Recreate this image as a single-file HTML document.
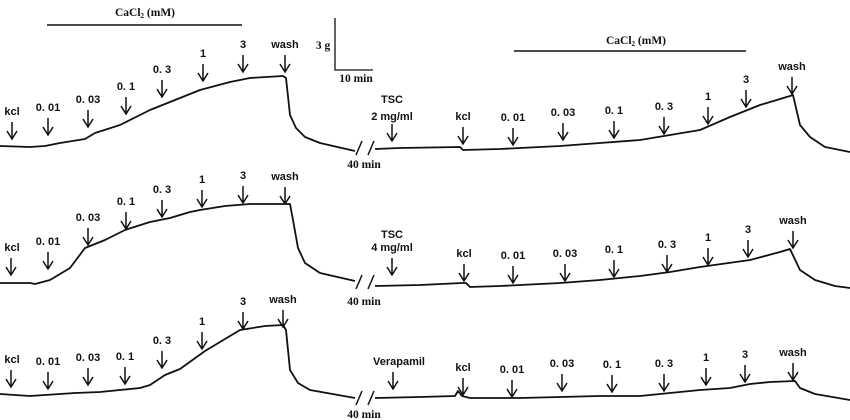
<!DOCTYPE html>
<html><head><style>body{margin:0;background:#fff}svg{display:block}
text{font-family:"Liberation Sans",sans-serif;font-size:11px;font-weight:bold;fill:#111;text-anchor:middle}
.s{font-family:"Liberation Serif",serif;font-size:11.5px}
.t{fill:none;stroke:#111;stroke-width:1.8;stroke-linejoin:round}
.a{fill:none;stroke:#111;stroke-width:1.5}
</style></head><body>
<svg width="850" height="420" viewBox="0 0 850 420" xmlns="http://www.w3.org/2000/svg">
<defs><g id="ar"><path class="a" d="M0,0V17M-5,9L0,17L5,9"/></g></defs>
<!-- CaCl2 bars -->
<text class="s" x="145" y="16">CaCl<tspan font-size="7" dy="2">2</tspan><tspan dy="-2"> (mM)</tspan></text>
<line x1="47" y1="25" x2="242" y2="25" stroke="#111" stroke-width="1.5"/>
<text class="s" x="636" y="44">CaCl<tspan font-size="7" dy="2">2</tspan><tspan dy="-2"> (mM)</tspan></text>
<line x1="514" y1="51" x2="746" y2="51" stroke="#111" stroke-width="1.5"/>
<!-- scale -->
<path d="M335,18V70H373" fill="none" stroke="#111" stroke-width="1.3"/>
<text class="s" x="323" y="49">3 g</text>
<text class="s" x="356" y="82">10 min</text>
<!-- traces -->
<polyline class="t" points="0,146 30,147 45,146 60,143 85,139 95,133 120,125 150,110 175,100 200,90 230,82 250,78 283,76 286,78 290,115 296,128 305,137 320,143 355,151"/>
<polyline class="t" points="375,149 400,148 460,147 463,150 500,149 560,146 600,143 640,140 670,135 700,130 730,117 760,105 790,96 793,95 800,125 810,137 825,147 850,152"/>
<polyline class="t" points="0,283 30,283 35,284 50,280 70,268 85,248 105,240 125,230 150,222 170,218 190,212 200,210 225,206 250,204 290,204 293,220 298,248 305,263 320,273 355,281"/>
<polyline class="t" points="375,286 420,285 462,283 466,283 470,287 500,286 560,283 600,280 640,276 670,272 700,267 750,260 780,252 790,249 800,270 815,280 835,286 850,288"/>
<polyline class="t" points="0,394 30,396 75,393 100,392 120,390 140,388 150,385 165,375 180,369 205,351 220,342 240,330 265,326 283,325 286,330 290,370 298,383 310,390 355,398"/>
<polyline class="t" points="375,398 420,397 455,396 458,391 462,396 470,398 520,398 560,397 600,396 640,396 660,394 700,390 730,388 750,384 770,382 795,381 800,388 815,394 850,400"/>
<!-- breaks -->
<g stroke="#111" stroke-width="1.5"><line x1="356" y1="155" x2="362" y2="141"/><line x1="368" y1="155" x2="374" y2="141"/>
<line x1="356" y1="289" x2="362" y2="275"/><line x1="368" y1="289" x2="374" y2="275"/>
<line x1="356" y1="405" x2="362" y2="391"/><line x1="368" y1="405" x2="374" y2="391"/></g>
<text class="s" x="364" y="168">40 min</text>
<text class="s" x="364" y="305">40 min</text>
<text class="s" x="364" y="418">40 min</text>
<!-- row1 left labels/arrows -->
<g>
<text x="12" y="115">kcl</text><use href="#ar" x="12" y="122"/>
<text x="48" y="111">0. 01</text><use href="#ar" x="48" y="118"/>
<text x="88" y="103">0. 03</text><use href="#ar" x="88" y="110"/>
<text x="126" y="90">0. 1</text><use href="#ar" x="126" y="97"/>
<text x="162" y="73">0. 3</text><use href="#ar" x="162" y="80"/>
<text x="203" y="57">1</text><use href="#ar" x="203" y="64"/>
<text x="243" y="48">3</text><use href="#ar" x="243" y="55"/>
<text x="285" y="48">wash</text><use href="#ar" x="285" y="55"/>
</g>
<g>
<text x="392" y="103">TSC</text><text x="392" y="120">2 mg/ml</text><use href="#ar" x="392" y="124"/>
<text x="463" y="120">kcl</text><use href="#ar" x="463" y="127"/>
<text x="513" y="121">0. 01</text><use href="#ar" x="513" y="128"/>
<text x="563" y="116">0. 03</text><use href="#ar" x="563" y="123"/>
<text x="614" y="114">0. 1</text><use href="#ar" x="614" y="121"/>
<text x="664" y="110">0. 3</text><use href="#ar" x="664" y="117"/>
<text x="708" y="100">1</text><use href="#ar" x="708" y="107"/>
<text x="746" y="83">3</text><use href="#ar" x="746" y="90"/>
<text x="792" y="70">wash</text><use href="#ar" x="792" y="77"/>
</g>
<!-- row2 -->
<g>
<text x="12" y="251">kcl</text><use href="#ar" x="11" y="258"/>
<text x="48" y="245">0. 01</text><use href="#ar" x="48" y="252"/>
<text x="88" y="221">0. 03</text><use href="#ar" x="88" y="228"/>
<text x="126" y="205">0. 1</text><use href="#ar" x="126" y="212"/>
<text x="162" y="193">0. 3</text><use href="#ar" x="162" y="200"/>
<text x="202" y="183">1</text><use href="#ar" x="202" y="190"/>
<text x="243" y="179">3</text><use href="#ar" x="243" y="186"/>
<text x="285" y="180">wash</text><use href="#ar" x="285" y="187"/>
</g>
<g>
<text x="392" y="238">TSC</text><text x="392" y="251">4 mg/ml</text><use href="#ar" x="392" y="258"/>
<text x="464" y="257">kcl</text><use href="#ar" x="464" y="264"/>
<text x="513" y="259">0. 01</text><use href="#ar" x="513" y="266"/>
<text x="565" y="257">0. 03</text><use href="#ar" x="565" y="264"/>
<text x="614" y="253">0. 1</text><use href="#ar" x="614" y="260"/>
<text x="667" y="248">0. 3</text><use href="#ar" x="667" y="255"/>
<text x="708" y="241">1</text><use href="#ar" x="708" y="248"/>
<text x="748" y="233">3</text><use href="#ar" x="748" y="240"/>
<text x="793" y="224">wash</text><use href="#ar" x="793" y="231"/>
</g>
<!-- row3 -->
<g>
<text x="12" y="363">kcl</text><use href="#ar" x="11" y="370"/>
<text x="48" y="365">0. 01</text><use href="#ar" x="48" y="372"/>
<text x="88" y="361">0. 03</text><use href="#ar" x="88" y="368"/>
<text x="125" y="360">0. 1</text><use href="#ar" x="125" y="367"/>
<text x="162" y="344">0. 3</text><use href="#ar" x="162" y="351"/>
<text x="202" y="325">1</text><use href="#ar" x="202" y="332"/>
<text x="243" y="305">3</text><use href="#ar" x="243" y="312"/>
<text x="283" y="303">wash</text><use href="#ar" x="283" y="310"/>
</g>
<g>
<text x="399" y="365">Verapamil</text><use href="#ar" x="393" y="372"/>
<text x="463" y="371">kcl</text><use href="#ar" x="463" y="378"/>
<text x="512" y="373">0. 01</text><use href="#ar" x="512" y="380"/>
<text x="562" y="367">0. 03</text><use href="#ar" x="562" y="374"/>
<text x="612" y="368">0. 1</text><use href="#ar" x="612" y="375"/>
<text x="664" y="367">0. 3</text><use href="#ar" x="664" y="374"/>
<text x="706" y="361">1</text><use href="#ar" x="706" y="368"/>
<text x="745" y="358">3</text><use href="#ar" x="745" y="365"/>
<text x="793" y="356">wash</text><use href="#ar" x="793" y="363"/>
</g>
</svg>
</body></html>
